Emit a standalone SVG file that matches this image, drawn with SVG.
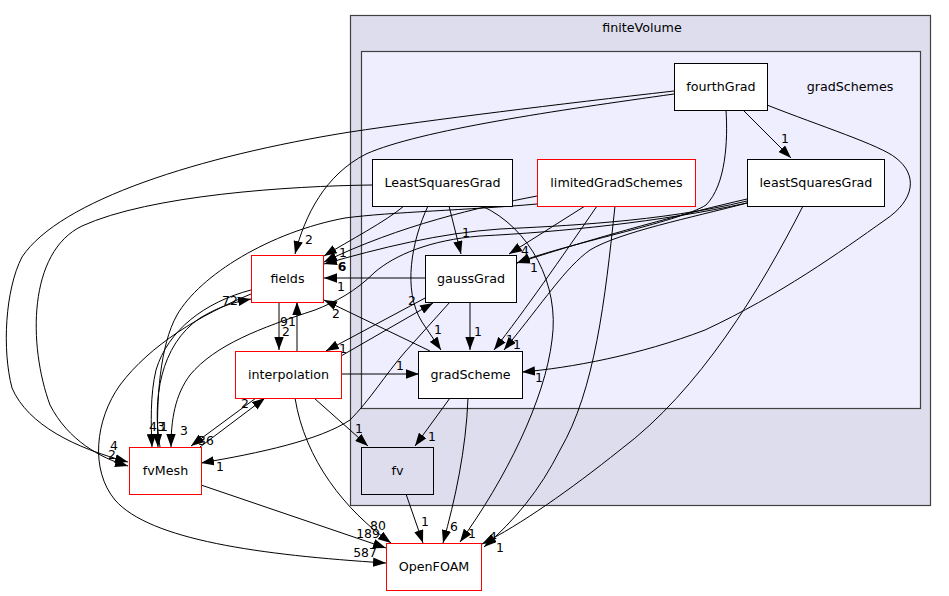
<svg xmlns="http://www.w3.org/2000/svg" width="949" height="596" viewBox="0 0 949 596">
<style>
text{font-family:"DejaVu Sans","Liberation Sans",sans-serif;font-size:12.7px;fill:#000}
.n text{text-anchor:middle}
.box{fill:#fff;stroke:#000;stroke-width:1}
.red{fill:#fff;stroke:#ff0000;stroke-width:1}
.e path{fill:none;stroke:#000;stroke-width:1;marker-end:url(#ah)}
.e text{font-size:12.4px;text-anchor:middle}
.cl{stroke:#404040;stroke-width:1.2}
</style>
<defs>
<marker id="ah" markerUnits="userSpaceOnUse" markerWidth="13" markerHeight="9.4" refX="13" refY="4.7" orient="auto">
<path d="M0,0 L13,4.7 L0,9.4 z" fill="#000"/>
</marker>
</defs>
<rect width="949" height="596" fill="#fff"/>
<g id="cluster_finiteVolume">
<rect class="cl" x="350.5" y="15.5" width="580" height="490" fill="#ddddee"/>
<text x="642" y="32" text-anchor="middle">finiteVolume</text>
</g>
<g id="cluster_gradSchemes">
<rect class="cl" x="361.5" y="51.5" width="559" height="357" fill="#eeeeff"/>
<text x="850" y="90.5" text-anchor="middle">gradSchemes</text>
</g>
<g id="edges" class="e">
<path d="M674,91 C560,104 430,120 350,132 C200,156 60,200 22,257 C5,290 2,350 12,388 C28,425 75,448 128,462"/>
<text x="114" y="450">4</text>
<path d="M372,185 C290,186 150,195 82,226 C28,252 28,345 50,405 C68,440 100,458 128,466"/>
<text x="112" y="459">2</text>
<path d="M674,94 C560,110 420,130 366,154 C325,175 305,215 295,254"/>
<text x="309" y="244">2</text>
<path d="M743,110 L791,158"/>
<text x="785" y="142.5">1</text>
<path d="M767,105 C820,126 880,145 896,158 C918,175 915,200 885,220 C840,252 780,295 705,330 C640,355 570,368 522,372"/>
<text x="539" y="382">1</text>
<path d="M726,110 C728,140 726,185 706,205 C680,222 560,245 517,263"/>
<path d="M747,199 C690,212 600,236 517,263"/>
<text x="534" y="272">1</text>
<path d="M747,201 C660,222 560,226 500,229 C440,233 380,248 324,264"/>
<path d="M537,196 C480,207 400,225 324,262"/>
<text x="342" y="270.5" style="font-weight:bold">6</text>
<path d="M404,206 C385,222 350,240 324,256"/>
<text x="343" y="257">1</text>
<path d="M425,278 L324,278"/>
<text x="341" y="290.5">1</text>
<path d="M430,351 L324,300"/>
<text x="336" y="318">2</text>
<path d="M279,302 L279,350"/>
<text x="286" y="335.5">2</text>
<path d="M297,351 L297,302"/>
<text x="288" y="325.5">91</text>
<path d="M160,447 C152,400 160,345 200,318 C220,306 235,302 251,299"/>
<text x="230" y="304.5">72</text>
<path d="M251,290 C205,302 168,330 156,370 C150,395 151,425 152,447"/>
<text x="157" y="430.5">43</text>
<path d="M537,204 C470,210 390,212 345,218 C270,232 200,275 177,315 C160,345 156,400 158,447"/>
<text x="164" y="430.5">1</text>
<path d="M747,203 C660,222 560,232 480,236 C430,240 395,255 375,272 C355,292 335,302 315,310 C260,328 215,345 190,375 C175,395 171,420 171,447"/>
<text x="184" y="435">3</text>
<path d="M450,302 L405,352 C385,375 370,400 350,420 C320,440 260,453 201,463"/>
<text x="220" y="471">1</text>
<path d="M256,398 L191,446"/>
<text x="206" y="445">36</text>
<path d="M200,447 L265,398"/>
<text x="245" y="408">2</text>
<path d="M341,356 L433,303"/>
<text x="412" y="304.5">2</text>
<path d="M427,297 L326,351"/>
<text x="343" y="352.5">1</text>
<path d="M341,374 L419,374"/>
<text x="400" y="369.5">1</text>
<path d="M314,398 L368,446"/>
<text x="359" y="432.5">1</text>
<path d="M450,398 L415,446"/>
<text x="432" y="441">1</text>
<path d="M295,398 C305,460 345,510 391,543"/>
<text x="378" y="529.5">80</text>
<path d="M201,485 L386,548"/>
<text x="368" y="538">189</text>
<path d="M251,294 C200,315 150,345 120,385 C95,420 90,470 115,500 C150,540 260,555 386,563"/>
<text x="365" y="557">587</text>
<path d="M406,494 L423,543"/>
<text x="425" y="526">1</text>
<path d="M468,398 C466,450 455,500 443,543"/>
<text x="454" y="531">6</text>
<path d="M482,206 C530,228 560,285 552,340 C545,400 505,480 460,542"/>
<text x="472" y="538">1</text>
<path d="M803,206 C760,290 700,390 620,450 C570,490 520,525 482,544"/>
<text x="493" y="541">4</text>
<path d="M615,206 C605,300 595,390 560,450 C540,490 515,520 484,547"/>
<text x="500" y="551.5">1</text>
<path d="M449,206 L461,254"/>
<text x="466" y="237">1</text>
<path d="M428,206 C412,240 402,290 422,322 L441,350"/>
<text x="438" y="334">1</text>
<path d="M470,302 L470,350"/>
<text x="478" y="336">1</text>
<path d="M585,206 L509,254"/>
<text x="525" y="254.5">4</text>
<path d="M597,206 C560,260 525,310 494,350"/>
<text x="510" y="343.5">1</text>
<path d="M747,203 C690,218 620,232 590,250 C565,268 545,300 504,350"/>
<text x="517" y="348.5">1</text>
</g>
<g id="fourthGrad" class="n"><rect class="box" x="674.5" y="63.5" width="93" height="47"/><text x="721" y="91">fourthGrad</text></g>
<g id="leastSquaresGrad" class="n"><rect class="box" x="747.5" y="159.5" width="137" height="47"/><text x="816" y="187">leastSquaresGrad</text></g>
<g id="limitedGradSchemes" class="n"><rect class="red" x="537.5" y="159.5" width="158" height="47"/><text x="616.5" y="187">limitedGradSchemes</text></g>
<g id="LeastSquaresGrad" class="n"><rect class="box" x="372.5" y="159.5" width="140" height="47"/><text x="442.5" y="187">LeastSquaresGrad</text></g>
<g id="gaussGrad" class="n"><rect class="box" x="425.5" y="255.5" width="91" height="47"/><text x="471" y="283">gaussGrad</text></g>
<g id="gradScheme" class="n"><rect class="box" x="418.5" y="351.5" width="104" height="47"/><text x="470.5" y="379">gradScheme</text></g>
<g id="fields" class="n"><rect class="red" x="251.5" y="255.5" width="72" height="47"/><text x="287.5" y="283">fields</text></g>
<g id="interpolation" class="n"><rect class="red" x="235.5" y="351.5" width="106" height="47"/><text x="288.5" y="379">interpolation</text></g>
<g id="fvMesh" class="n"><rect class="red" x="129.5" y="447.5" width="72" height="47"/><text x="165.5" y="475">fvMesh</text></g>
<g id="fv" class="n"><rect class="box" x="361.5" y="447.5" width="72" height="47" style="fill:#ddddee"/><text x="397.5" y="475">fv</text></g>
<g id="OpenFOAM" class="n"><rect class="red" x="386.5" y="543.5" width="95" height="47"/><text x="434" y="571">OpenFOAM</text></g>
</svg>
